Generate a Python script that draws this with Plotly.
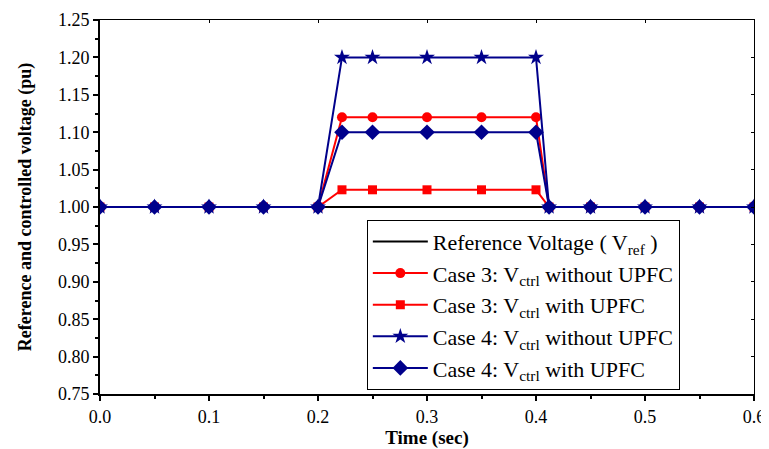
import plotly.graph_objects as go

time = [0.0, 0.05, 0.1, 0.15, 0.2, 0.222, 0.25, 0.3, 0.35, 0.4, 0.412, 0.45, 0.5, 0.55, 0.6]
v_ref = [1.0] * len(time)
c3_without = [1.0, 1.0, 1.0, 1.0, 1.0, 1.12, 1.12, 1.12, 1.12, 1.12, 1.0, 1.0, 1.0, 1.0, 1.0]
c3_with = [1.0, 1.0, 1.0, 1.0, 1.0, 1.023, 1.023, 1.023, 1.023, 1.023, 1.0, 1.0, 1.0, 1.0, 1.0]
c4_without = [1.0, 1.0, 1.0, 1.0, 1.0, 1.20, 1.20, 1.20, 1.20, 1.20, 1.0, 1.0, 1.0, 1.0, 1.0]
c4_with = [1.0, 1.0, 1.0, 1.0, 1.0, 1.10, 1.10, 1.10, 1.10, 1.10, 1.0, 1.0, 1.0, 1.0, 1.0]

names = [
    "Reference Voltage ( V<sub>ref</sub> )",
    "Case 3: V<sub>ctrl</sub> without UPFC",
    "Case 3: V<sub>ctrl</sub> with UPFC",
    "Case 4: V<sub>ctrl</sub> without UPFC",
    "Case 4: V<sub>ctrl</sub> with UPFC",
]

RED = "#ff0000"
BLUE = "#00008b"
FONT = "'Liberation Serif', 'Times New Roman', Times, serif"

fig = go.Figure()
fig.add_trace(go.Scatter(x=time, y=v_ref, mode="lines", name=names[0],
                         line=dict(color="black", width=2)))
fig.add_trace(go.Scatter(x=time, y=c3_without, mode="lines+markers", name=names[1],
                         line=dict(color=RED, width=2),
                         marker=dict(symbol="circle", size=10, color=RED)))
fig.add_trace(go.Scatter(x=time, y=c3_with, mode="lines+markers", name=names[2],
                         line=dict(color=RED, width=2),
                         marker=dict(symbol="square", size=9, color=RED)))
fig.add_trace(go.Scatter(x=time, y=c4_without, mode="lines+markers", name=names[3],
                         line=dict(color=BLUE, width=2),
                         marker=dict(symbol="star", size=12, color=BLUE)))
fig.add_trace(go.Scatter(x=time, y=c4_with, mode="lines+markers", name=names[4],
                         line=dict(color=BLUE, width=2),
                         marker=dict(symbol="diamond", size=12, color=BLUE)))

# invisible trace for mirrored axes
fig.add_trace(go.Scatter(x=[0, 0.6], y=[0.75, 1.25], xaxis="x2", yaxis="y2",
                         mode="markers", marker=dict(opacity=0), showlegend=False,
                         hoverinfo="skip"))

fig.update_layout(
    width=761, height=441,
    margin=dict(l=92, r=15, t=12, b=55, autoexpand=False),
    paper_bgcolor="white", plot_bgcolor="white",
    font=dict(family=FONT, color="black", size=17),
    xaxis=dict(range=[0, 0.6], dtick=0.1, tickformat=".1f", automargin=False,
               showgrid=False, zeroline=False, showline=True, linecolor="black", linewidth=2,
               ticks="outside", ticklen=5, tickwidth=2, tickcolor="black",
               minor=dict(dtick=0.05, ticks="outside", ticklen=3, tickwidth=2, tickcolor="black"),
               tickfont=dict(family=FONT, size=18),
               title=dict(text="<b>Time (sec)</b>", font=dict(family=FONT, size=19), standoff=4)),
    yaxis=dict(range=[0.75, 1.25], dtick=0.05, tickformat=".2f", automargin=False,
               showgrid=False, zeroline=False, showline=True, linecolor="black", linewidth=2,
               ticks="outside", ticklen=5, tickwidth=2, tickcolor="black",
               minor=dict(dtick=0.025, ticks="outside", ticklen=3, tickwidth=2, tickcolor="black"),
               tickfont=dict(family=FONT, size=18),
               title=dict(text="<b>Reference and controlled voltage (pu)</b>",
                          font=dict(family=FONT, size=18), standoff=22)),
    xaxis2=dict(range=[0, 0.6], dtick=0.1, overlaying="x", side="top", automargin=False,
                showgrid=False, zeroline=False, showline=True, linecolor="black", linewidth=1,
                ticks="inside", ticklen=3, tickwidth=1, tickcolor="black",
                showticklabels=False),
    yaxis2=dict(range=[0.75, 1.25], dtick=0.05, overlaying="y", side="right", automargin=False,
                showgrid=False, zeroline=False, showline=True, linecolor="black", linewidth=1,
                ticks="inside", ticklen=3, tickwidth=1, tickcolor="black",
                showticklabels=False),
    legend=dict(x=0.408, y=0.466, xanchor="left", yanchor="top",
                bgcolor="white", bordercolor="black", borderwidth=1,
                font=dict(family=FONT, size=22), itemwidth=55, tracegroupgap=0),
    showlegend=True,
)

fig.write_html("out.html")
